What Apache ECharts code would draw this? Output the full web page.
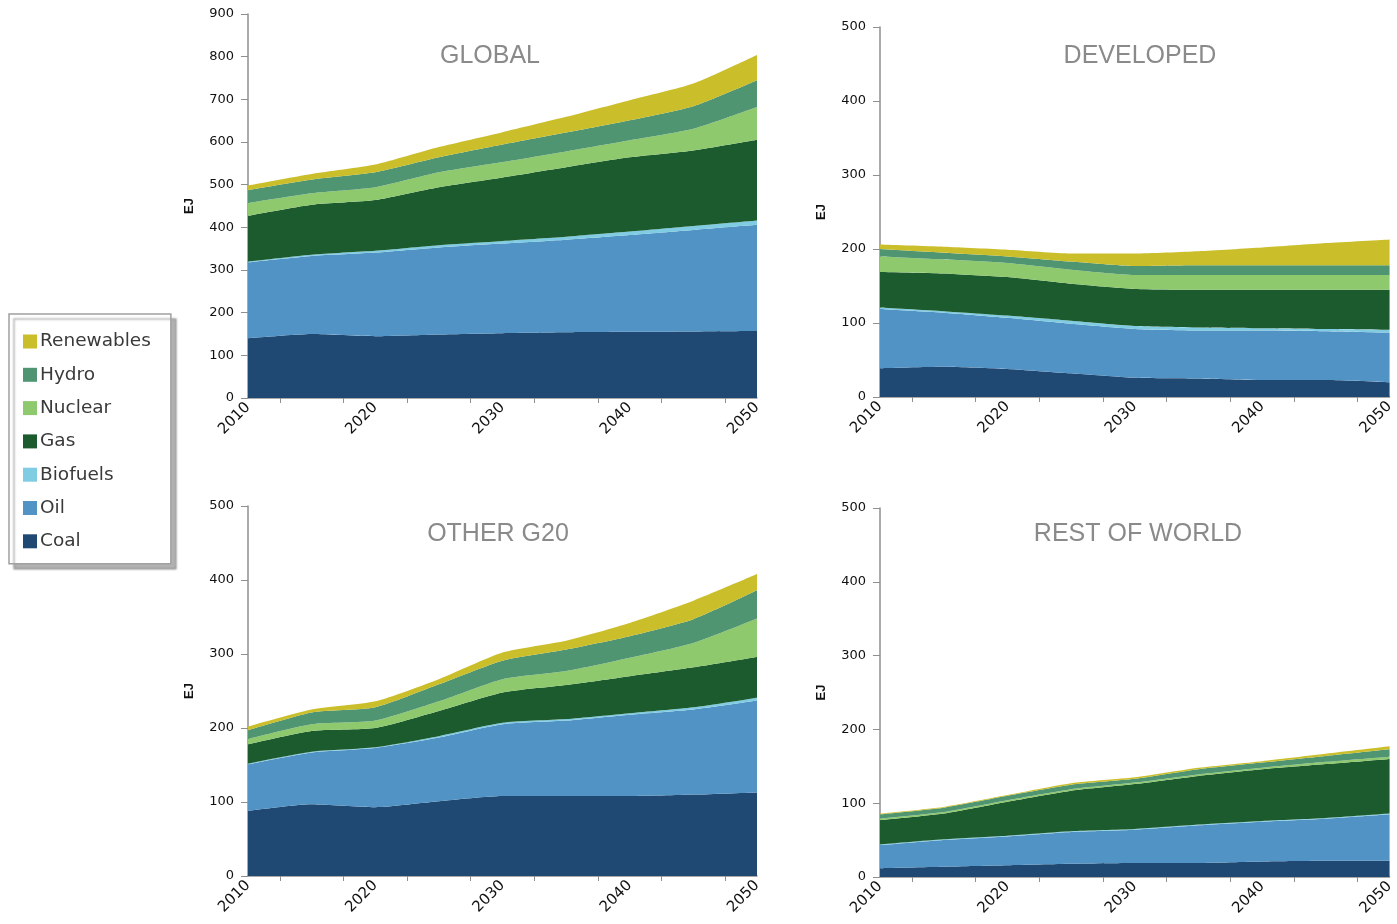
<!DOCTYPE html>
<html>
<head>
<meta charset="utf-8">
<title>Primary energy by source</title>
<script src="https://cdn.jsdelivr.net/npm/echarts@6/dist/echarts.min.js"></script>
<style>
  html, body { margin: 0; padding: 0; background: #fff; }
  #chart { width: 1397px; height: 924px; }
</style>
</head>
<body>
<div id="chart"></div>
<script>
// categories (5-year steps)
const years = ['2010', '2015', '2020', '2025', '2030', '2035', '2040', '2045', '2050'];
const sources = ['Coal', 'Oil', 'Biofuels', 'Gas', 'Nuclear', 'Hydro', 'Renewables'];
const legendOrder = ['Renewables', 'Hydro', 'Nuclear', 'Gas', 'Biofuels', 'Oil', 'Coal'];
const colors = ['#1F4872', '#5293C6', '#80CCE2', '#1C5B2D', '#8FC96D', '#4F9571', '#CBBE2B'];

// GLOBAL (EJ)
const gCoal = [140, 150, 145, 149, 152, 154, 155, 156, 157];
const gOil  = [178, 183, 196, 204, 210, 217, 227, 238, 249];
const gBio  = [2, 3, 4, 5, 6, 7, 8, 9, 10];
const gGas  = [107, 117, 119, 136, 149, 163, 174, 177, 189];
const gNuc  = [30, 27, 30, 35, 36, 37, 40, 51, 77];
const gHyd  = [30, 32, 35, 35, 41, 44, 47, 53, 63];
const gRen  = [11, 13, 18, 24, 29, 37, 47, 53, 59];

// DEVELOPED
const dCoal = [39, 41, 38, 32, 26, 25, 23, 23, 20];
const dOil  = [80, 73, 69, 67, 66, 65, 67, 66, 67];
const dBio  = [2, 2, 3, 4, 4, 4, 3, 3, 4];
const dGas  = [48, 51, 52, 50, 50, 51, 52, 53, 54];
const dNuc  = [21, 19, 19, 19, 19, 20, 20, 20, 20];
const dHyd  = [10, 9, 9, 11, 12, 13, 13, 13, 13];
const dRen  = [6, 8, 9, 11, 17, 19, 24, 30, 35];

// OTHER G20
const oCoal = [88, 97, 93, 101, 108, 108, 108, 110, 113];
const oOil  = [63, 70, 80, 86, 97, 102, 110, 115, 124];
const oBio  = [1, 1, 1, 2, 2, 2, 2, 3, 4];
const oGas  = [26, 28, 26, 34, 41, 46, 50, 54, 55];
const oNuc  = [7, 9, 10, 13, 18, 19, 25, 33, 52];
const oHyd  = [12, 16, 18, 23, 25, 29, 29, 32, 38];
const oRen  = [5, 4, 8, 7, 11, 12, 18, 25, 22];

// REST OF WORLD
const rCoal = [12, 14, 16, 18, 19, 19, 21, 22, 22];
const rOil  = [31, 36, 39, 43, 45, 51, 54, 57, 63];
const rBio  = [1, 1, 1, 1, 1, 1, 1, 1, 1];
const rGas  = [33, 35, 46, 55, 61, 66, 70, 73, 74];
const rNuc  = [2, 2, 2, 2, 2, 2, 2, 3, 3];
const rHyd  = [6, 6, 6, 6, 5, 7, 7, 8, 10];
const rRen  = [1, 1, 1, 2, 2, 2, 2, 3, 4];

const panels = [
  { title: 'GLOBAL', max: 900, grid: { left: 248, top: 14, width: 509, height: 384 }, tx: 490, ty: 44,
    data: [gCoal, gOil, gBio, gGas, gNuc, gHyd, gRen] },
  { title: 'DEVELOPED', max: 500, grid: { left: 880, top: 27, width: 512, height: 370 }, tx: 1140, ty: 44,
    data: [dCoal, dOil, dBio, dGas, dNuc, dHyd, dRen] },
  { title: 'OTHER G20', max: 500, grid: { left: 248, top: 506, width: 509, height: 370 }, tx: 498, ty: 522,
    data: [oCoal, oOil, oBio, oGas, oNuc, oHyd, oRen] },
  { title: 'REST OF WORLD', max: 500, grid: { left: 880, top: 508, width: 512, height: 369 }, tx: 1138, ty: 522,
    data: [rCoal, rOil, rBio, rGas, rNuc, rHyd, rRen] }
];

const axisGrey = '#8f8f8f';
const font = 'Liberation Sans, Arial, sans-serif';
const tickFont = 'DejaVu Sans, sans-serif';

const chart = echarts.init(document.getElementById('chart'), null, { renderer: 'canvas' });

const xAxis = [];
const yAxis = [];
const series = [];

panels.forEach((p, i) => {
  // main axis carrying the data and labels
  xAxis.push({
    gridIndex: i,
    type: 'category',
    position: 'bottom',
    data: years,
    boundaryGap: false,
    axisLine: { lineStyle: { color: axisGrey, width: 1.5 } },
    axisTick: { show: false },
    axisLabel: { interval: 1, rotate: 45, fontSize: 15, color: '#111', fontFamily: tickFont, margin: 7 },
    splitLine: { show: false }
  });
  // tick-only axis: ticks sit between the data points, like the original
  xAxis.push({
    gridIndex: i,
    type: 'category',
    position: 'bottom',
    data: years.slice(1),
    boundaryGap: true,
    axisLine: { show: false, onZero: false },
    axisTick: { show: true, alignWithLabel: true, interval: 0, length: 5, lineStyle: { color: axisGrey, width: 1 } },
    axisLabel: { show: false },
    splitLine: { show: false }
  });
  yAxis.push({
    gridIndex: i,
    type: 'value',
    min: 0,
    max: p.max,
    interval: 100,
    name: 'EJ',
    nameLocation: 'middle',
    nameRotate: 90,
    nameGap: 52,
    nameTextStyle: { fontSize: 13, fontWeight: 'bold', color: '#111', fontFamily: font },
    axisLine: { show: true, lineStyle: { color: axisGrey, width: 1.5 } },
    axisTick: { show: true, length: 7, lineStyle: { color: axisGrey } },
    axisLabel: { fontSize: 13, color: '#111', fontFamily: tickFont, margin: 14 },
    splitLine: { show: false }
  });
  sources.forEach((name, k) => {
    series.push({
      name,
      type: 'line',
      xAxisIndex: i * 2,
      yAxisIndex: i,
      stack: 'panel' + i,
      data: p.data[k],
      symbol: 'none',
      smooth: 0.2,
      lineStyle: { width: 0 },
      itemStyle: { color: colors[k] },
      areaStyle: { color: colors[k], opacity: 1 },
      emphasis: { disabled: true },
      silent: true
    });
  });
});

chart.setOption({
  animation: false,
  textStyle: { fontFamily: font },
  title: panels.map(p => ({
    text: p.title,
    left: p.tx,
    top: p.ty,
    textAlign: 'center',
    padding: 0,
    textStyle: { fontSize: 25, fontWeight: 'normal', color: '#8a8a8a', fontFamily: font }
  })),
  legend: {
    data: legendOrder,
    orient: 'vertical',
    left: 9,
    top: 314,
    padding: [18, 20, 13, 14],
    itemWidth: 14,
    itemHeight: 14,
    itemGap: 14.3,
    icon: 'rect',
    selectedMode: false,
    backgroundColor: '#fff',
    borderColor: '#a0a0a0',
    borderWidth: 1.5,
    shadowColor: 'rgba(0,0,0,0.3)',
    shadowOffsetX: 5,
    shadowOffsetY: 5,
    shadowBlur: 2,
    textStyle: { fontSize: 18.5, color: '#3a3a3a', fontFamily: 'DejaVu Sans, sans-serif', padding: [0, 0, 0, -2] }
  },
  grid: panels.map(p => Object.assign({ containLabel: false }, p.grid)),
  xAxis,
  yAxis,
  series
});
</script>
</body>
</html>
